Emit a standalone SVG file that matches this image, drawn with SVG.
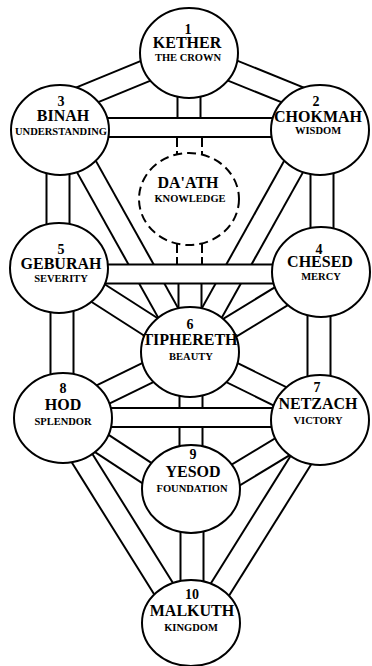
<svg xmlns="http://www.w3.org/2000/svg" width="372" height="666" viewBox="0 0 372 666">
<style>
.bk{stroke:#000;fill:none;stroke-linecap:butt}
.wh{stroke:#fff;fill:none;stroke-linecap:butt}
.d{stroke-width:24}
.dw{stroke-width:20}
.v{stroke-width:25}
.vw{stroke-width:21}
.h{stroke-width:21}
.hw{stroke-width:17}
.node{fill:#fff;stroke:#000;stroke-width:2}
.daath{fill:#fff;stroke:#000;stroke-width:2;stroke-dasharray:9 5}
.stub{stroke:#000;stroke-width:2;stroke-dasharray:9 4;fill:none}
text{font-family:"Liberation Serif","Times New Roman",serif;font-weight:bold;text-anchor:middle;fill:#000}
.num{font-size:14px}
.nm{font-size:16px}
.sub{font-size:10.5px}
</style>
<rect width="372" height="666" fill="#fff"/>
<g id="connectors">
  <g id="paths-under">
    <g class="bk">
      <line class="d" x1="189" y1="53" x2="60" y2="106"/>
      <line class="d" x1="189" y1="53" x2="320" y2="106"/>
      <line class="d" x1="314" y1="130" x2="190" y2="352"/>
      <line class="d" x1="66" y1="130" x2="190" y2="352"/>
      <line class="d" x1="321" y1="272" x2="190" y2="352"/>
      <line class="d" x1="59" y1="268" x2="190" y2="352"/>
      <line class="d" x1="320" y1="416" x2="190" y2="352"/>
      <line class="d" x1="63" y1="414" x2="190" y2="352"/>
      <line class="d" x1="63" y1="418" x2="191" y2="502"/>
      <line class="d" x1="320" y1="424" x2="191" y2="502"/>
      <line class="d" x1="57" y1="418" x2="185" y2="623"/>
      <line class="d" x1="326" y1="420" x2="199" y2="623"/>
      <line class="v" x1="189" y1="53" x2="189" y2="128"/>
      <line class="v" x1="190" y1="274" x2="190" y2="352"/>
      <line class="v" x1="58" y1="130" x2="58" y2="268"/>
      <line class="v" x1="322" y1="130" x2="322" y2="272"/>
      <line class="v" x1="62" y1="268" x2="62" y2="418"/>
      <line class="v" x1="319" y1="272" x2="319" y2="420"/>
      <line class="v" x1="191" y1="352" x2="191" y2="489"/>
      <line class="v" x1="192" y1="489" x2="192" y2="623"/>
    </g>
    <g class="wh">
      <line class="dw" x1="189" y1="53" x2="60" y2="106"/>
      <line class="dw" x1="189" y1="53" x2="320" y2="106"/>
      <line class="dw" x1="314" y1="130" x2="190" y2="352"/>
      <line class="dw" x1="66" y1="130" x2="190" y2="352"/>
      <line class="dw" x1="321" y1="272" x2="190" y2="352"/>
      <line class="dw" x1="59" y1="268" x2="190" y2="352"/>
      <line class="dw" x1="320" y1="416" x2="190" y2="352"/>
      <line class="dw" x1="63" y1="414" x2="190" y2="352"/>
      <line class="dw" x1="63" y1="418" x2="191" y2="502"/>
      <line class="dw" x1="320" y1="424" x2="191" y2="502"/>
      <line class="dw" x1="57" y1="418" x2="185" y2="623"/>
      <line class="dw" x1="326" y1="420" x2="199" y2="623"/>
      <line class="vw" x1="189" y1="53" x2="189" y2="128"/>
      <line class="vw" x1="190" y1="274" x2="190" y2="352"/>
      <line class="vw" x1="58" y1="130" x2="58" y2="268"/>
      <line class="vw" x1="322" y1="130" x2="322" y2="272"/>
      <line class="vw" x1="62" y1="268" x2="62" y2="418"/>
      <line class="vw" x1="319" y1="272" x2="319" y2="420"/>
      <line class="vw" x1="191" y1="352" x2="191" y2="489"/>
      <line class="vw" x1="192" y1="489" x2="192" y2="623"/>
    </g>
  </g>
  <g id="paths-over">
    <g class="bk">
      <line class="h" x1="60" y1="127.5" x2="320" y2="127.5"/>
      <line class="h" x1="59" y1="274" x2="321" y2="274"/>
      <line class="h" x1="63" y1="417.5" x2="320" y2="417.5"/>
    </g>
    <g class="wh">
      <line class="hw" x1="60" y1="127.5" x2="320" y2="127.5"/>
      <line class="hw" x1="59" y1="274" x2="321" y2="274"/>
      <line class="hw" x1="63" y1="417.5" x2="320" y2="417.5"/>
    </g>
    <path class="stub" d="M177,138 V154 M202,138 V154 M177,244 V264 M202,244 V264"/>
  </g>
</g>
<g id="daath">
  <ellipse class="daath" cx="189" cy="199" rx="50" ry="46"/>
  <text class="nm" x="188" y="188">DA'ATH</text>
  <text class="sub" x="190" y="202">KNOWLEDGE</text>
</g>
<g id="kether">
  <ellipse class="node" cx="189" cy="53" rx="49" ry="45"/>
  <text class="num" x="188" y="34">1</text>
  <text class="nm" x="187" y="48">KETHER</text>
  <text class="sub" x="188" y="61">THE CROWN</text>
</g>
<g id="chokmah">
  <ellipse class="node" cx="320" cy="130" rx="49" ry="45"/>
  <text class="num" x="316" y="106">2</text>
  <text class="nm" x="318" y="122">CHOKMAH</text>
  <text class="sub" x="318" y="134">WISDOM</text>
</g>
<g id="binah">
  <ellipse class="node" cx="60" cy="130" rx="49" ry="45"/>
  <text class="num" x="61" y="106">3</text>
  <text class="nm" x="63" y="121">BINAH</text>
  <text class="sub" x="61" y="135">UNDERSTANDING</text>
</g>
<g id="chesed">
  <ellipse class="node" cx="321" cy="272" rx="49" ry="45"/>
  <text class="num" x="319" y="254">4</text>
  <text class="nm" x="320" y="267">CHESED</text>
  <text class="sub" x="321" y="280">MERCY</text>
</g>
<g id="geburah">
  <ellipse class="node" cx="59" cy="268" rx="49" ry="45"/>
  <text class="num" x="61" y="254">5</text>
  <text class="nm" x="61" y="269">GEBURAH</text>
  <text class="sub" x="61" y="282">SEVERITY</text>
</g>
<g id="tiphereth">
  <ellipse class="node" cx="190" cy="352" rx="49" ry="45"/>
  <text class="num" x="190" y="329">6</text>
  <text class="nm" x="190" y="345">TIPHERETH</text>
  <text class="sub" x="191" y="360">BEAUTY</text>
</g>
<g id="netzach">
  <ellipse class="node" cx="320" cy="420" rx="49" ry="45"/>
  <text class="num" x="317" y="392">7</text>
  <text class="nm" x="318" y="409">NETZACH</text>
  <text class="sub" x="318" y="424">VICTORY</text>
</g>
<g id="hod">
  <ellipse class="node" cx="63" cy="418" rx="49" ry="45"/>
  <text class="num" x="63" y="393">8</text>
  <text class="nm" x="63" y="410">HOD</text>
  <text class="sub" x="63" y="425">SPLENDOR</text>
</g>
<g id="yesod">
  <ellipse class="node" cx="191" cy="489" rx="49" ry="44"/>
  <text class="num" x="193" y="459">9</text>
  <text class="nm" x="193" y="477">YESOD</text>
  <text class="sub" x="192" y="492">FOUNDATION</text>
</g>
<g id="malkuth">
  <ellipse class="node" cx="191" cy="623" rx="49" ry="43"/>
  <text class="num" x="192" y="599">10</text>
  <text class="nm" x="192" y="616">MALKUTH</text>
  <text class="sub" x="191" y="631">KINGDOM</text>
</g>
</svg>
